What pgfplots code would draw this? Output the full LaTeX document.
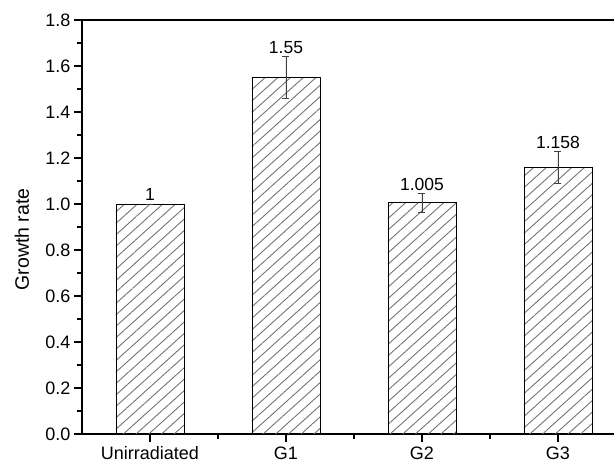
\documentclass[border=0pt]{standalone}
\usepackage{pgfplots}
\pgfplotsset{compat=1.18}
\usepackage{fontspec}
\setmainfont{Liberation Sans}
\usetikzlibrary{patterns.meta}
\begin{document}
\begin{tikzpicture}
\begin{axis}[
  scale only axis, width=544pt, height=414pt,
  xmin=-0.5, xmax=3.5, ymin=0, ymax=1.8,
  xtick={0,1,2,3}, xticklabels={Unirradiated,G1,G2,G3},
  minor xtick={0.5,1.5,2.5},
  ytick={0,0.2,0.4,0.6,0.8,1.0,1.2,1.4,1.6,1.8}, minor y tick num=1,
  yticklabel style={/pgf/number format/.cd, fixed, fixed zerofill, precision=1},
  /pgf/number format/assume math mode=true,
  tick align=outside, xtick pos=bottom, ytick pos=left,
  major tick length=8pt, minor tick length=5pt,
  tick style={black, line width=1.3pt},
  axis line style={line width=1.3pt},
  ticklabel style={font=\fontsize{18}{20}\selectfont},
  xticklabel style={yshift=-1pt},
  ylabel={Growth rate},
  ylabel style={at={(axis description cs:-0.1103,0.47)}, anchor=center, font=\fontsize{19.5}{22}\selectfont},
]
\coordinate (O) at (rel axis cs:0,0);
\addplot[ybar, bar width=0.5, draw=black, line width=0.9pt,
  pattern={Lines[angle=42, distance=8.5pt, line width=0.9pt]}, pattern color=black!55,
  error bars/.cd, y dir=both, y explicit,
  error bar style={line width=0.9pt, black!75},
  error mark options={rotate=90, mark size=3.5pt, line width=0.9pt, black!75}]
  coordinates {(0,1) +- (0,0) (1,1.55) +- (0,0.09) (2,1.005) +- (0,0.04) (3,1.158) +- (0,0.07)};
\addplot[only marks, mark=none, nodes near coords, point meta=explicit symbolic,
  nodes near coords style={anchor=south, inner sep=1pt, yshift=2pt, font=\fontsize{17.5}{19}\selectfont}]
  coordinates {(0,1)[1] (1,1.64)[1.55] (2,1.045)[1.005] (3,1.228)[1.158]};
\end{axis}
\pgfresetboundingbox
\path[use as bounding box] ([shift={(-82pt,-31pt)}]O) rectangle ([shift={(532pt,434pt)}]O);
\end{tikzpicture}
\end{document}
